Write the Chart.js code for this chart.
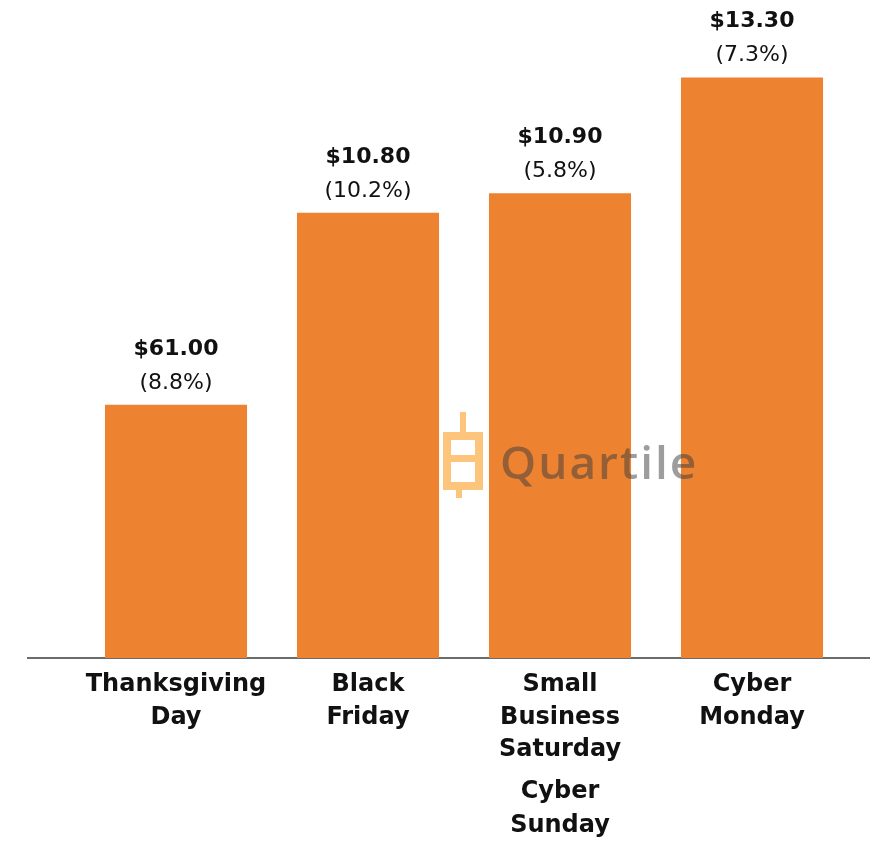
<!DOCTYPE html>
<html>
<head>
<meta charset="utf-8">
<title>Holiday spend</title>
<script src="https://cdn.jsdelivr.net/npm/chart.js@4.4.1/dist/chart.umd.min.js"></script>
<style>
  html, body { margin: 0; padding: 0; background: #fff; }
  #wrap { width: 870px; height: 851px; position: relative; }
</style>
</head>
<body>
<div id="wrap"><canvas id="bars"></canvas></div>
<script>
// data
const days = [
  ['Thanksgiving', 'Day'],
  ['Black', 'Friday'],
  ['Small', 'Business', 'Saturday'],
  ['Cyber', 'Monday']
];
// second label block under a category (Cyber Sunday shares the Saturday bar)
const extraDays = [null, null, ['Cyber', 'Sunday'], null];
const barHeights = [5.8, 10.2, 10.65, 13.3];
const spendLabels = ['$61.00', '$10.80', '$10.90', '$13.30'];
const growthLabels = ['(8.8%)', '(10.2%)', '(5.8%)', '(7.3%)'];

const orange = '#ED8231';

// baseline across the whole width, under the bars
const baseline = {
  id: 'baseline',
  beforeDatasetsDraw(chart) {
    const ctx = chart.ctx;
    const y = chart.scales.y.getPixelForValue(0);
    ctx.save();
    ctx.strokeStyle = '#6b6b6b';
    ctx.lineWidth = 2;
    ctx.beginPath();
    ctx.moveTo(27, y);
    ctx.lineTo(chart.width, y);
    ctx.stroke();
    ctx.restore();
  }
};

// category names under the axis
const dayLabels = {
  id: 'dayLabels',
  afterDraw(chart) {
    const ctx = chart.ctx;
    const x = chart.scales.x;
    const y0 = chart.scales.y.getPixelForValue(0);
    ctx.save();
    ctx.fillStyle = '#111';
    ctx.textAlign = 'center';
    ctx.textBaseline = 'middle';
    ctx.font = 'bold 24px "DejaVu Sans"';
    days.forEach((lines, i) => {
      const cx = x.getPixelForValue(i);
      let y = y0 + 27;
      lines.forEach(t => { ctx.fillText(t, cx, y); y += 32.5; });
      if (extraDays[i]) {
        y += 9;
        extraDays[i].forEach(t => { ctx.fillText(t, cx, y); y += 34; });
      }
    });
    ctx.restore();
  }
};

// value + percent labels above each bar
const topLabels = {
  id: 'topLabels',
  afterDatasetsDraw(chart) {
    const ctx = chart.ctx;
    const meta = chart.getDatasetMeta(0);
    ctx.save();
    ctx.fillStyle = '#111';
    ctx.textAlign = 'center';
    ctx.textBaseline = 'middle';
    meta.data.forEach((bar, i) => {
      ctx.font = 'bold 22px "DejaVu Sans"';
      ctx.fillText(spendLabels[i], bar.x, bar.y - 56);
      ctx.font = '22px "DejaVu Sans"';
      ctx.fillText(growthLabels[i], bar.x, bar.y - 22);
    });
    ctx.restore();
  }
};

// watermark
const watermark = {
  id: 'watermark',
  afterDatasetsDraw(chart) {
    const ctx = chart.ctx;
    ctx.save();
    ctx.fillStyle = '#FDC47C';
    ctx.fillRect(460, 412, 6, 21);
    ctx.fillRect(443, 432, 40, 58);
    ctx.fillRect(456, 489, 6, 9);
    ctx.fillStyle = '#fff';
    ctx.fillRect(451, 440, 24, 15);
    ctx.fillRect(451, 462, 24, 20);
    ctx.fillStyle = 'rgba(60,60,60,0.5)';
    ctx.font = '600 46px "Open Sans"';
    ctx.letterSpacing = '2px';
    ctx.textBaseline = 'alphabetic';
    ctx.fillText('Quartile', 500, 479);
    ctx.restore();
  }
};

new Chart(document.getElementById('bars'), {
  type: 'bar',
  data: {
    labels: days,
    datasets: [{
      data: barHeights,
      backgroundColor: orange,
      borderWidth: 0,
      barPercentage: 0.74,
      categoryPercentage: 1
    }]
  },
  options: {
    responsive: true,
    maintainAspectRatio: false,
    animation: false,
    layout: { padding: { left: 80, right: 22, top: 47, bottom: 0 } },
    plugins: {
      legend: { display: false },
      tooltip: { enabled: false }
    },
    scales: {
      x: {
        grid: { display: false, drawTicks: false },
        border: { display: false },
        ticks: { display: false },
        afterFit(scale) { scale.height = 193; }
      },
      y: {
        display: false,
        min: 0,
        max: 14
      }
    }
  },
  plugins: [baseline, topLabels, watermark, dayLabels]
});
</script>
</body>
</html>
